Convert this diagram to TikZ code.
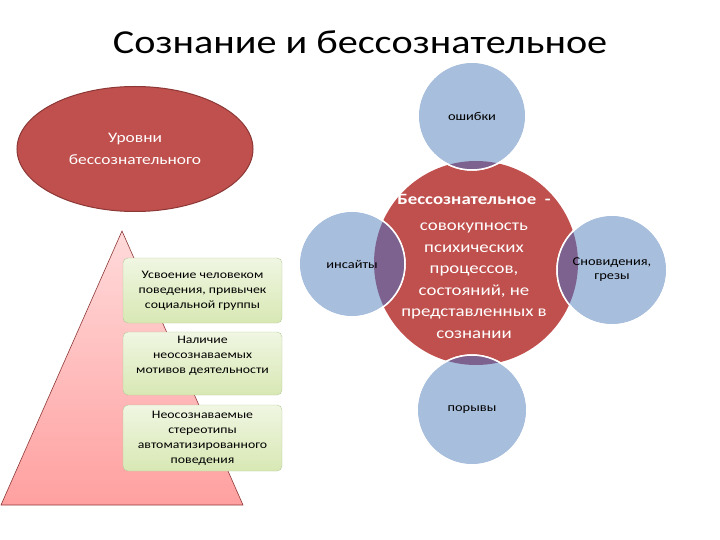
\documentclass[tikz,border=0pt]{standalone}
\usepackage{fontspec}
\setmainfont[FakeStretch=1.2]{Carlito}
\usetikzlibrary{shapes.geometric,positioning}

\definecolor{coreRed}{HTML}{C0504D}
\definecolor{coreEdge}{HTML}{8C3836}
\definecolor{bubbleBlue}{HTML}{A7BEDC}
\definecolor{overlapViolet}{HTML}{7D6290}
\definecolor{pinkTop}{HTML}{FFDADA}
\definecolor{pinkBot}{HTML}{FFA0A0}
\definecolor{greenTop}{HTML}{F0F6E2}
\definecolor{greenBot}{HTML}{D8E8B4}
\definecolor{greenEdge}{HTML}{B5C99A}

\begin{document}
\begin{tikzpicture}[x=1pt, y=-1pt,
    bubble/.style = {circle, fill=bubbleBlue, draw=white, line width=1.5pt, inner sep=0pt},
    greenbox/.style = {draw=greenEdge, rounded corners=5pt, top color=greenTop, bottom color=greenBot,
                       minimum width=159pt, align=center, font=\fontsize{11.5}{15}\selectfont},
    boxtext/.style = {align=center, font=\fontsize{11.5}{15}\selectfont},
    bubbletext/.style = {align=center, font=\fontsize{12}{14}\selectfont}]
      \useasboundingbox (0,0) rectangle (720,540);

      \node (title) at (360,42) {\fontsize{33.5}{38}\selectfont Сознание и бессознательное};

      \node[ellipse, fill=coreRed, draw=coreEdge, line width=1pt, minimum width=236pt, minimum height=125pt,
            align=center, text=white, font=\fontsize{14.5}{22}\selectfont] (levels) at (135,149)
            {Уровни\\бессознательного};

      % pyramid
      \shadedraw[top color=pinkTop, bottom color=pinkBot, draw=coreEdge, line width=0.6pt]
            (122,231) -- (243,505) -- (1,505) -- cycle;

      \node[greenbox, minimum height=65pt] (box1) at (202.5,290.5)
            {Усвоение человеком\\поведения, привычек\\социальной группы};
      \node[greenbox, minimum height=63pt] (box2) at (202.5,363.5) {};
      \node[boxtext, below=1pt of box2.north] (box2txt)
            {Наличие\\неосознаваемых\\мотивов деятельности};
      \node[greenbox, minimum height=66pt] (box3) at (202.5,438)
            {Неосознаваемые\\стереотипы\\автоматизированного\\поведения};

      % venn
      \node[circle, fill=coreRed, minimum size=204pt, inner sep=0pt] (core) at (476,263) {};

      \node[bubble, minimum size=108pt] (errors) at (472,116) {};
      \node[bubble, minimum size=106pt] (insights) at (352,264) {};
      \node[bubble, minimum size=110pt] (dreams) at (612,270) {};
      \node[bubble, minimum size=110pt] (urges) at (472,410) {};

      \begin{scope}
        \clip (core.center) circle (102pt);
        \fill[overlapViolet] (errors.center) circle (54pt);
        \fill[overlapViolet] (insights.center) circle (53pt);
        \fill[overlapViolet] (dreams.center) circle (55pt);
        \fill[overlapViolet] (urges.center) circle (55pt);
      \end{scope}
      \draw[white, line width=1.5pt] (errors.center) circle (54pt);
      \draw[white, line width=1.5pt] (insights.center) circle (53pt);
      \draw[white, line width=1.5pt] (dreams.center) circle (55pt);
      \draw[white, line width=1.5pt] (urges.center) circle (55pt);

      \node[bubbletext] at (errors.center) {ошибки};
      \node[bubbletext] at (insights.center) {инсайты};
      \node[bubbletext] at (dreams.center) {Сновидения,\\грезы};
      \node[bubbletext] at (urges.center) {порывы};

      \node[align=center, text=white, font=\fontsize{15.7}{21.5}\selectfont] (definition) at (474,266)
            {\textbf{Бессознательное \ -}\\[5pt]совокупность\\психических\\процессов,\\состояний, не\\представленных в\\сознании};
    \end{tikzpicture}
\end{document}
